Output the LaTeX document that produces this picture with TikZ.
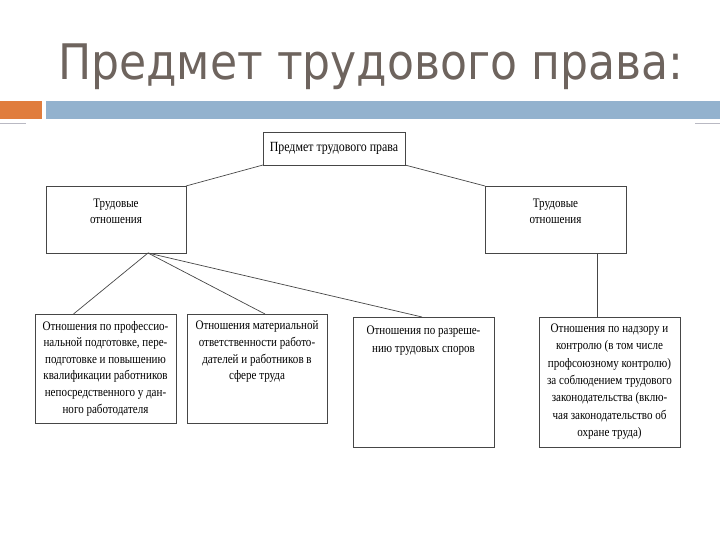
\documentclass[tikz,border=0pt]{standalone}
\usepackage{fontspec}
\setmainfont{Liberation Serif}
\newfontfamily\condserif[FakeStretch=0.85]{Liberation Serif}
\newfontfamily\titlefont{DejaVu Sans}
\usetikzlibrary{calc}
\definecolor{titlecol}{RGB}{110,100,94}
\definecolor{orangebar}{RGB}{224,125,62}
\definecolor{bluebar}{RGB}{147,178,206}
\definecolor{thinline}{RGB}{185,185,195}
\definecolor{edgecol}{RGB}{70,70,70}
% width, height, top gap, baselineskip, text
\newcommand{\bxt}[5]{\parbox[c][#2pt][t]{#1pt}{\centering\condserif\fontsize{13}{#4}\selectfont\vspace*{#3pt}#5\par}}
\tikzset{
  box/.style={draw=edgecol, line width=0.7pt, inner sep=0pt, outer sep=0pt, anchor=north west, fill=white},
  conn/.style={draw=edgecol, line width=0.7pt}
}
\begin{document}
\begin{tikzpicture}[x=1pt,y=1pt]
\useasboundingbox (0,0) rectangle (720,-540);
\fill[white] (0,0) rectangle (720,-540);
% title
\node[anchor=base west, inner sep=0pt, text=titlecol, font=\titlefont\fontsize{49}{58}\selectfont] (title) at (58,-80) {\scalebox{0.9}[1]{Предмет трудового права:}};
% bars
\fill[orangebar] (0,-101) rectangle (42,-119);
\fill[bluebar] (46,-101) rectangle (720,-119);
\draw[thinline, line width=1.5pt] (0,-123.5) -- (26,-123.5);
\draw[thinline, line width=1.5pt] (695,-123.5) -- (720,-123.5);
% nodes
\node[box] (top) at (263,-132) {\parbox[c][33pt][c]{142pt}{\centering\condserif\fontsize{14}{16}\selectfont Предмет трудового права}};
\node[box] (lt) at (46,-186) {\bxt{140}{67}{13}{15.5}{Трудовые\\отношения}};
\node[box] (rt) at (485,-186) {\bxt{141}{67}{13}{15.5}{Трудовые\\отношения}};
\node[box] (b1) at (35,-314) {\bxt{141}{109}{7}{16.6}{Отношения по профессио-\\нальной подготовке, пере-\\подготовке и повышению\\квалификации работников\\непосредственного у дан-\\ного работодателя}};
\node[box] (b2) at (187,-314) {\bxt{140}{109}{7}{16.6}{Отношения материальной\\ответственности работо-\\дателей и работников в\\сфере труда}};
\node[box] (b3) at (353,-317) {\bxt{141}{130}{9}{17.5}{Отношения по разреше-\\нию трудовых споров}};
\node[box] (b4) at (539,-317) {\bxt{141}{130}{7}{17.3}{Отношения по надзору и\\контролю (в том числе\\профсоюзному контролю)\\за соблюдением трудового\\законодательства (вклю-\\чая законодательство об\\охране труда)}};
% connectors
\draw[conn] (top.south west) -- (lt.north east);
\draw[conn] (top.south east) -- (rt.north west);
\coordinate (fork) at ([xshift=32pt]lt.south);
\draw[conn] (fork) -- ([xshift=-32pt]b1.north);
\draw[conn] (fork) -- ([xshift=8pt]b2.north);
\draw[conn] (fork) -- ([xshift=-1.5pt]b3.north);
\coordinate (vx) at ([xshift=41.5pt]rt.south);
\draw[conn] (vx) -- (vx |- b4.north);
\end{tikzpicture}
\end{document}
